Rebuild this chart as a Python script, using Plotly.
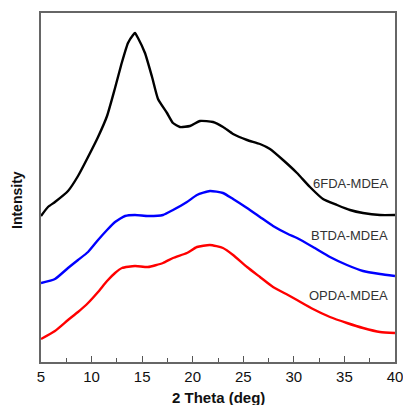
import plotly.graph_objects as go

# XRD patterns of the three MDEA-based polyimides (intensity in arbitrary units)
theta_6fda = [5.00, 5.69, 6.38, 7.67, 8.66, 9.65, 10.64, 11.53, 12.32, 13.01, 13.60,
              14.10, 14.29, 14.59, 15.28, 15.98, 16.57, 17.46, 18.05, 18.74, 19.73,
              20.72, 22.01, 23.00, 23.99, 25.37, 26.65, 27.64, 28.93, 30.31, 31.59,
              32.88, 34.27, 35.55, 36.84, 38.52, 40.00]
int_6fda = [146, 155, 160, 171, 186, 205, 225, 246, 274, 300, 319,
            327, 329, 324, 309, 285, 263, 249, 239, 235, 236,
            241, 240, 235, 228, 222, 218, 213, 202, 189, 175,
            163, 157, 152, 149, 147, 147]

theta_btda = [5.00, 6.38, 7.67, 8.66, 9.65, 10.64, 11.53, 12.32, 13.31, 14.29, 15.58,
              17.06, 18.05, 19.43, 20.42, 21.70, 22.99, 23.99, 25.37, 26.65, 27.94,
              29.42, 30.31, 31.89, 33.57, 35.25, 36.84, 38.52, 40.00]
int_btda = [79, 83, 94, 102, 110, 122, 132, 140, 146, 147, 146,
            147, 152, 160, 167, 171, 169, 163, 154, 145, 136,
            128, 124, 115, 105, 97, 91, 88, 86]

theta_opda = [5.00, 6.38, 7.67, 8.66, 9.65, 10.64, 11.53, 12.32, 13.01, 14.29, 15.58,
              17.06, 18.05, 19.43, 20.42, 21.70, 22.99, 23.99, 25.37, 26.65, 27.94,
              29.42, 30.31, 31.89, 33.57, 35.25, 36.84, 38.52, 40.00]
int_opda = [23, 31, 42, 50, 59, 70, 81, 89, 94, 96, 95,
            99, 104, 109, 115, 117, 114, 107, 95, 85, 75,
            67, 62, 53, 45, 39, 34, 30, 29]

series_names = ["6FDA-MDEA", "BTDA-MDEA", "OPDA-MDEA"]
series_colors = ["#000000", "#0000FF", "#FF0000"]
label_y = [179, 127, 67]

x_ticks = [5, 10, 15, 20, 25, 30, 35, 40]

fig = go.Figure()
for name, xs, ys, col in zip(series_names,
                             [theta_6fda, theta_btda, theta_opda],
                             [int_6fda, int_btda, int_opda],
                             series_colors):
    fig.add_trace(go.Scatter(x=xs, y=ys, mode="lines", name=name,
                             line=dict(color=col, width=2.4, shape="spline", smoothing=0.5)))

for name, ly in zip(series_names, label_y):
    fig.add_annotation(x=39.5, y=ly, text=name, showarrow=False, xanchor="right",
                       yanchor="middle",
                       font=dict(family="Liberation Sans, Arial", size=13, color="#333333"))

fig.add_annotation(xref="paper", yref="paper", x=0.5, y=-0.1003, text="<b>2 Theta (deg)</b>",
                   showarrow=False, xanchor="center", yanchor="middle",
                   font=dict(family="Liberation Sans, Arial", size=15, color="#111111"))
fig.add_annotation(xref="paper", yref="paper", x=-0.068, y=0.464, text="<b>Intensity</b>",
                   showarrow=False, xanchor="center", yanchor="middle", textangle=-90,
                   font=dict(family="Liberation Sans, Arial", size=14, color="#111111"))

fig.update_layout(
    width=403, height=405,
    margin=dict(l=41, r=8, t=13, b=43, autoexpand=False),
    paper_bgcolor="white", plot_bgcolor="white",
    showlegend=False,
    xaxis=dict(range=[5, 40], tickvals=x_ticks, ticks="inside", ticklen=6, tickwidth=1,
               tickcolor="#555555", showline=True, linecolor="#666666", linewidth=1.5,
               mirror=True, showgrid=False, zeroline=False, automargin=False,
               ticklabeloverflow="allow",
               tickfont=dict(family="Liberation Sans, Arial", size=15, color="#111111"),
               tickprefix="<b>", ticksuffix="</b>",
               minor=dict(dtick=2.5, ticks="inside", ticklen=4, tickcolor="#555555")),
    yaxis=dict(range=[0, 349], showticklabels=False, ticks="", showline=True,
               linecolor="#666666", linewidth=1.5, mirror=True, showgrid=False,
               zeroline=False, automargin=False),
)

fig.write_html("out.html")
